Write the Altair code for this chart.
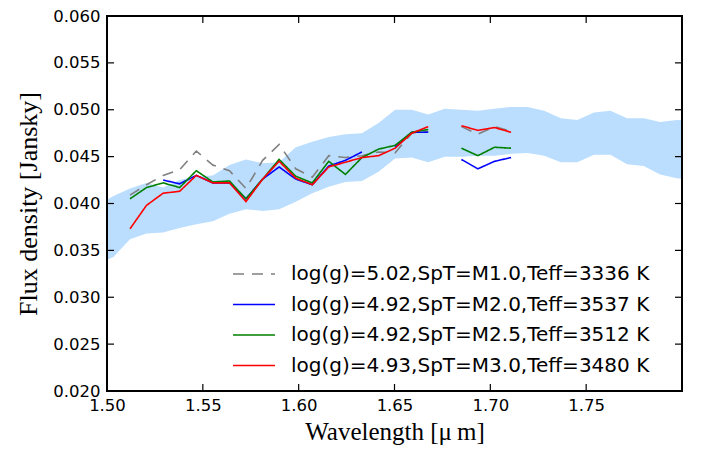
import altair as alt
import pandas as pd

# ---- data ----
wl = [1.5120, 1.5206, 1.5293, 1.5379, 1.5466, 1.5552, 1.5639, 1.5725, 1.5812, 1.5898,
      1.5985, 1.6071, 1.6157, 1.6244, 1.6330, 1.6417, 1.6503, 1.6590, 1.6676, 1.6762,
      1.6849, 1.6935, 1.7022, 1.7108]

m10 = [0.0409, 0.0420, 0.0430, 0.0436, 0.0456, 0.0441, 0.0435, 0.0416, 0.0446, 0.0463,
       0.0437, 0.0428, 0.0451, 0.0449, 0.0451, 0.0455, 0.0454, 0.0475, 0.0477, None,
       0.0482, 0.0474, 0.0482, 0.0477]
m20 = [None, None, 0.0425, 0.0421, 0.0430, 0.0422, 0.0422, 0.0405, 0.0426, 0.0439,
       0.0426, 0.0420, 0.0440, 0.0446, 0.0455, None, 0.0460, 0.0476, 0.0476, None,
       0.0447, 0.0437, 0.0445, 0.0449]
m25 = [0.0405, 0.0417, 0.0422, 0.0417, 0.0435, 0.0423, 0.0424, 0.0405, 0.0426, 0.0447,
       0.0429, 0.0422, 0.0445, 0.0431, 0.0449, 0.0458, 0.0462, 0.0476, 0.0479, None,
       0.0459, 0.0451, 0.0460, 0.0459]
m30 = [0.0373, 0.0398, 0.0411, 0.0413, 0.0430, 0.0422, 0.0422, 0.0402, 0.0426, 0.0445,
       0.0427, 0.0420, 0.0439, 0.0444, 0.0449, 0.0451, 0.0459, 0.0475, 0.0482, None,
       0.0483, 0.0478, 0.0481, 0.0476]

band_wl = [1.4947, 1.5034, 1.5120, 1.5206, 1.5293, 1.5379, 1.5466, 1.5552, 1.5639, 1.5725,
           1.5812, 1.5898, 1.5985, 1.6071, 1.6157, 1.6244, 1.6330, 1.6417, 1.6503, 1.6590,
           1.6676, 1.6762, 1.6849, 1.6935, 1.7022, 1.7108, 1.7195, 1.7281, 1.7368, 1.7454,
           1.7541, 1.7627, 1.7713, 1.7800, 1.7886, 1.7973, 1.8059]
band_lo = [0.0335, 0.0343, 0.0362, 0.0368, 0.0369, 0.0374, 0.0378, 0.0381, 0.0389, 0.0394,
           0.0392, 0.0394, 0.0402, 0.0411, 0.0418, 0.0423, 0.0424, 0.0434, 0.0448, 0.0449,
           0.0444, 0.0450, 0.0450, 0.0451, 0.0451, 0.0453, 0.0454, 0.0451, 0.0444, 0.0444,
           0.0452, 0.0452, 0.0442, 0.0440, 0.0431, 0.0427, 0.0425]
band_hi = [0.0398, 0.0408, 0.0416, 0.0422, 0.0417, 0.0425, 0.0429, 0.0430, 0.0441, 0.0447,
           0.0443, 0.0444, 0.0460, 0.0466, 0.0471, 0.0474, 0.0475, 0.0486, 0.0500, 0.0500,
           0.0495, 0.0501, 0.0500, 0.0499, 0.0501, 0.0503, 0.0503, 0.0499, 0.0491, 0.0489,
           0.0497, 0.0499, 0.0491, 0.0491, 0.0487, 0.0489, 0.0488]

labels = ["log(g)=5.02,SpT=M1.0,Teff=3336 K",
          "log(g)=4.92,SpT=M2.0,Teff=3537 K",
          "log(g)=4.92,SpT=M2.5,Teff=3512 K",
          "log(g)=4.93,SpT=M3.0,Teff=3480 K"]
colors = ["#808080", "#0000ff", "#008000", "#ff0000"]
dashes = [[11, 8], [1, 0], [1, 0], [1, 0]]

x_ticks = [1.50, 1.55, 1.60, 1.65, 1.70, 1.75]
x_tick_marks = [1.50, 1.55, 1.60, 1.65, 1.70, 1.75, 1.80]
y_ticks = [0.020, 0.025, 0.030, 0.035, 0.040, 0.045, 0.050, 0.055, 0.060]

# ---- tables ----
rows = []
for lab, series in zip(labels, [m10, m20, m25, m30]):
    seg = 0
    for w, f in zip(wl, series):
        if f is None:
            seg += 1
            continue
        rows.append({"wl": w, "flux": f, "series": lab, "seg": seg})
lines_df = pd.DataFrame(rows)
band_df = pd.DataFrame({"wl": band_wl, "lo": band_lo, "hi": band_hi})
xt_df = pd.DataFrame({"v": x_tick_marks})
yt_df = pd.DataFrame({"v": y_ticks})

W, H = 575, 375
LABEL_FONT = "DejaVu Sans"
TITLE_FONT = "Liberation Serif"

xscale = alt.Scale(domain=[1.5, 1.8], nice=False, zero=False)
yscale = alt.Scale(domain=[0.02, 0.06], nice=False, zero=False)

xaxis = alt.Axis(values=x_ticks, format=".2f", grid=False, domain=False, ticks=False,
                 labelFlush=False, labelPadding=6, labelFont=LABEL_FONT, labelFontSize=16.5,
                 labelColor="black", title="Wavelength [μ\u2009m]", titleFont=TITLE_FONT,
                 titleFontSize=25, titleFontWeight="normal", titleColor="black",
                 titlePadding=6)
yaxis = alt.Axis(values=y_ticks, format=".3f", grid=False, domain=False, ticks=False,
                 labelFlush=False, labelPadding=7, labelFont=LABEL_FONT, labelFontSize=16.5,
                 labelColor="black", title="Flux density [Jansky]", titleFont=TITLE_FONT,
                 titleFontSize=26, titleFontWeight="normal", titleColor="black",
                 titlePadding=11)

band = alt.Chart(band_df).mark_area(color="#bbdeff", clip=True).encode(
    x=alt.X("wl:Q", scale=xscale, axis=xaxis),
    y=alt.Y("lo:Q", scale=yscale, axis=yaxis),
    y2="hi:Q",
)

legend = alt.Legend(title=None, orient="none", legendX=131, legendY=242,
                    symbolType="M-1.4,0L1.4,0", symbolSize=900, symbolStrokeWidth=1.6,
                    labelFont=LABEL_FONT, labelFontSize=20, labelColor="black",
                    labelLimit=600, labelOffset=21, rowPadding=4.5, padding=0)

def series_layer(lab):
    return alt.Chart(lines_df).transform_filter(
        alt.datum.series == lab
    ).mark_line(strokeWidth=1.6, clip=True).encode(
        x=alt.X("wl:Q", scale=xscale),
        y=alt.Y("flux:Q", scale=yscale),
        color=alt.Color("series:N", scale=alt.Scale(domain=labels, range=colors), legend=legend),
        strokeDash=alt.StrokeDash("series:N", scale=alt.Scale(domain=labels, range=dashes), legend=legend),
        detail="seg:N",
    )

line_layers = [series_layer(l) for l in labels]

TL = 7
tick_left = alt.Chart(yt_df).mark_rule(color="black", strokeWidth=1.2).encode(
    y=alt.Y("v:Q", scale=yscale), x=alt.value(0), x2=alt.value(TL))
tick_right = alt.Chart(yt_df).mark_rule(color="black", strokeWidth=1.2).encode(
    y=alt.Y("v:Q", scale=yscale), x=alt.value(W - TL), x2=alt.value(W))
tick_bottom = alt.Chart(xt_df).mark_rule(color="black", strokeWidth=1.2).encode(
    x=alt.X("v:Q", scale=xscale), y=alt.value(H - TL), y2=alt.value(H))
tick_top = alt.Chart(xt_df).mark_rule(color="black", strokeWidth=1.2).encode(
    x=alt.X("v:Q", scale=xscale), y=alt.value(0), y2=alt.value(TL))

frame = alt.Chart(xt_df).mark_rect(filled=False, stroke="black", strokeWidth=1.6).encode(
    x=alt.value(0), x2=alt.value(W), y=alt.value(0), y2=alt.value(H))

chart = alt.layer(band, *line_layers, tick_left, tick_right, tick_bottom, tick_top, frame).properties(
    width=W, height=H,
    autosize=alt.AutoSizeParams(type="none"),
    padding={"left": 99, "top": 8, "right": 11, "bottom": 55},
).configure_view(strokeWidth=0).configure(background="white")

chart.save("out.html", embed_options={"renderer": "svg", "actions": False})
